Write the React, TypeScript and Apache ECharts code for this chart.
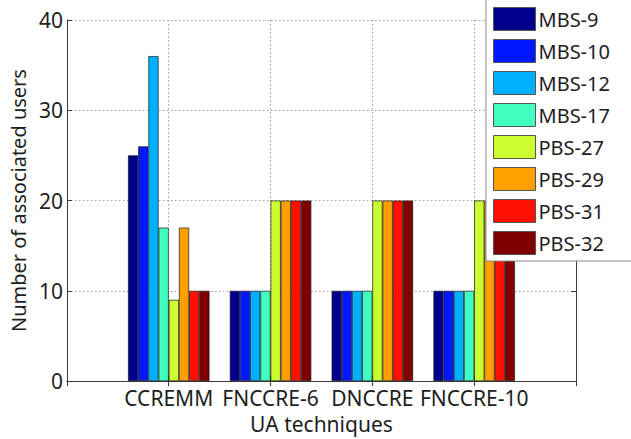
import React, { useEffect, useRef } from "react";
import * as echarts from "echarts";

const categories = ["", "CCREMM", "FNCCRE-6", "DNCCRE", "FNCCRE-10", ""];
const seriesNames = ["MBS-9", "MBS-10", "MBS-12", "MBS-17", "PBS-27", "PBS-29", "PBS-31", "PBS-32"];
const seriesColors = ["#00008c", "#0018ff", "#00b0ff", "#40ffc0", "#ccff30", "#ffa000", "#ff1000", "#800000"];
// values per series, for CCREMM, FNCCRE-6, DNCCRE, FNCCRE-10
const mbs9 = [25, 10, 10, 10];
const mbs10 = [26, 10, 10, 10];
const mbs12 = [36, 10, 10, 10];
const mbs17 = [17, 10, 10, 10];
const pbs27 = [9, 20, 20, 20];
const pbs29 = [17, 20, 20, 20];
const pbs31 = [10, 20, 20, 20];
const pbs32 = [10, 20, 20, 20];
const seriesValues = [mbs9, mbs10, mbs12, mbs17, pbs27, pbs29, pbs31, pbs32];
const yTicks = { min: 0, max: 40, interval: 10 };

const FONT = "Noto Sans";
const AXIS_COLOR = "#3a3a3a";
const TEXT_COLOR = "#1e1e1e";

export default function App() {
  const ref = useRef<HTMLDivElement>(null);
  useEffect(() => {
    if (!ref.current) return;
    const chart = echarts.init(ref.current, null, { renderer: "svg" });
    const series = seriesNames.map((name, i) => ({
      name,
      type: "bar",
      xAxisIndex: 0,
      yAxisIndex: 0,
      barGap: "0%",
      barCategoryGap: "20%",
      data: ["-", ...seriesValues[i], "-"],
      itemStyle: { color: seriesColors[i], borderColor: "#1a1a1a", borderWidth: 0.7 },
    }));
    chart.setOption({
      animation: false,
      backgroundColor: "#ffffff",
      textStyle: { fontFamily: FONT },
      grid: { left: 62, top: 20, width: 514, height: 365 },
      legend: {
        orient: "vertical",
        left: 486,
        top: -10,
        padding: [17, 40, 6, 7],
        icon: "rect",
        itemWidth: 42,
        itemHeight: 23,
        itemGap: 8,
        backgroundColor: "#ffffff",
        borderColor: "#8a8a8a",
        borderWidth: 1,
        borderRadius: 0,
        itemStyle: { borderColor: "#555", borderWidth: 1 },
        textStyle: { fontSize: 20, color: TEXT_COLOR, fontFamily: FONT, padding: [0, 0, 0, -2] },
        data: seriesNames,
        selectedMode: false,
      },
      xAxis: [
        {
          type: "category",
          data: categories,
          boundaryGap: false,
          position: "bottom",
          axisLine: { lineStyle: { color: AXIS_COLOR, width: 1 } },
          axisTick: { inside: true, length: 5, lineStyle: { color: AXIS_COLOR } },
          axisLabel: { fontSize: 21, color: TEXT_COLOR, margin: 6, fontFamily: FONT, interval: 0 },
          splitLine: { show: true, interval: 0, lineStyle: { color: "#9a9a9a", type: [1.5, 2.5], width: 1 } },
          name: "UA techniques",
          nameLocation: "middle",
          nameGap: 31,
          nameTextStyle: { fontSize: 21, color: TEXT_COLOR, fontFamily: FONT },
        },
        {
          type: "category",
          data: categories,
          boundaryGap: false,
          position: "top",
          axisLine: { lineStyle: { color: AXIS_COLOR, width: 1 } },
          axisTick: { inside: true, length: 5, interval: 0, lineStyle: { color: AXIS_COLOR } },
          axisLabel: { show: false },
          splitLine: { show: false },
        },
      ],
      yAxis: [
        {
          type: "value",
          ...yTicks,
          position: "left",
          axisLine: { show: true, lineStyle: { color: AXIS_COLOR, width: 1 } },
          axisTick: { show: true, inside: true, length: 5, lineStyle: { color: AXIS_COLOR } },
          axisLabel: { fontSize: 21, color: TEXT_COLOR, margin: 4, fontFamily: FONT },
          splitLine: { show: true, lineStyle: { color: "#9a9a9a", type: [1.5, 2.5], width: 1 } },
          name: "Number of associated users",
          nameLocation: "middle",
          nameGap: 35,
          nameTextStyle: { fontSize: 20, color: TEXT_COLOR, fontFamily: FONT },
        },
        {
          type: "value",
          ...yTicks,
          position: "right",
          axisLine: { show: true, lineStyle: { color: AXIS_COLOR, width: 1 } },
          axisTick: { show: true, inside: true, length: 5, lineStyle: { color: AXIS_COLOR } },
          axisLabel: { show: false },
          splitLine: { show: false },
        },
      ],
      series,
    });
    return () => chart.dispose();
  }, []);
  return (
    <div
      ref={ref}
      style={{ position: "fixed", left: 0, top: 0, width: 631, height: 439, background: "#fff" }}
    />
  );
}
